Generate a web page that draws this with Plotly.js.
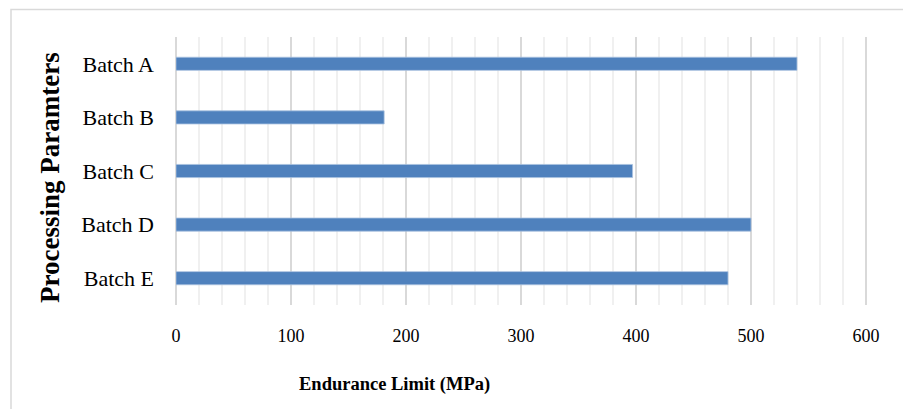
<!DOCTYPE html>
<html>
<head>
<meta charset="utf-8">
<script src="https://cdn.plot.ly/plotly-3.0.1.min.js"></script>
<style>
html,body{margin:0;padding:0;background:#fff;}
#chart{width:903px;height:409px;}
</style>
</head>
<body>
<div id="chart"></div>
<script>
const categories = ["Batch A", "Batch B", "Batch C", "Batch D", "Batch E"];
const enduranceLimit = [540, 181, 397, 500, 480];
const xTickValues = [0, 100, 200, 300, 400, 500, 600];
const xMinorTickValues = [20, 40, 60, 80, 120, 140, 160, 180, 220, 240, 260, 280,
  320, 340, 360, 380, 420, 440, 460, 480, 520, 540, 560, 580];
const xTitle = 'Endurance Limit (MPa)';
const yTitle = 'Processing Paramters';

const W = 903, H = 409;
const margin = {l: 176, r: 34, t: 37, b: 104};
const pw = W - margin.l - margin.r, ph = H - margin.t - margin.b;
const px = v => (v - margin.l) / pw;           // page x -> paper x
const py = v => (H - margin.b - v) / ph;       // page y -> paper y

const trace = {
  type: 'bar',
  orientation: 'h',
  y: categories,
  x: enduranceLimit,
  width: 0.245,
  marker: {color: '#4f81bd', line: {color: '#a9c1e0', width: 0.8}},
  hoverinfo: 'x+y'
};

const serif = '"Liberation Serif", "DejaVu Serif", serif';

const layout = {
  width: W, height: H,
  margin: margin,
  paper_bgcolor: '#fff', plot_bgcolor: '#fff',
  showlegend: false,
  font: {family: serif, color: '#000'},
  xaxis: {
    range: [0, pw / 1.15],
    tickmode: 'array',
    tickvals: xTickValues,
    ticktext: xTickValues.map(String),
    showgrid: true, gridcolor: '#d9d9d9', gridwidth: 2,
    zeroline: true, zerolinecolor: '#d9d9d9', zerolinewidth: 2,
    minor: {tickmode: 'array', tickvals: xMinorTickValues, showgrid: true, gridcolor: '#f0f0f0', gridwidth: 2},
    showline: false,
    ticks: '',
    ticklabelstandoff: 18,
    tickfont: {size: 18, family: serif, color: '#000'},
    fixedrange: true
  },
  yaxis: {
    autorange: 'reversed',
    type: 'category',
    showgrid: false,
    zeroline: false,
    showline: false,
    ticks: '',
    ticklabelstandoff: 21,
    tickfont: {size: 22, family: serif, color: '#000'},
    fixedrange: true
  },
  annotations: [
    {text: xTitle, xref: 'paper', yref: 'paper', x: px(394), y: py(384),
     xanchor: 'center', yanchor: 'middle', showarrow: false,
     font: {size: 18.5, family: serif, color: '#000', weight: 'bold'}},
    {text: yTitle, xref: 'paper', yref: 'paper', x: px(50), y: py(178),
     xanchor: 'center', yanchor: 'middle', showarrow: false, textangle: -90,
     font: {size: 27, family: serif, color: '#000', weight: 'bold'}}
  ],
  shapes: [{
    type: 'rect', xref: 'paper', yref: 'paper', layer: 'below',
    x0: px(11), x1: px(W + 20),
    y0: py(H + 20), y1: py(9.5),
    line: {color: '#d9d9d9', width: 1.5}, fillcolor: 'rgba(0,0,0,0)'
  }]
};

Plotly.newPlot('chart', [trace], layout, {displayModeBar: false, staticPlot: true});
</script>
</body>
</html>
